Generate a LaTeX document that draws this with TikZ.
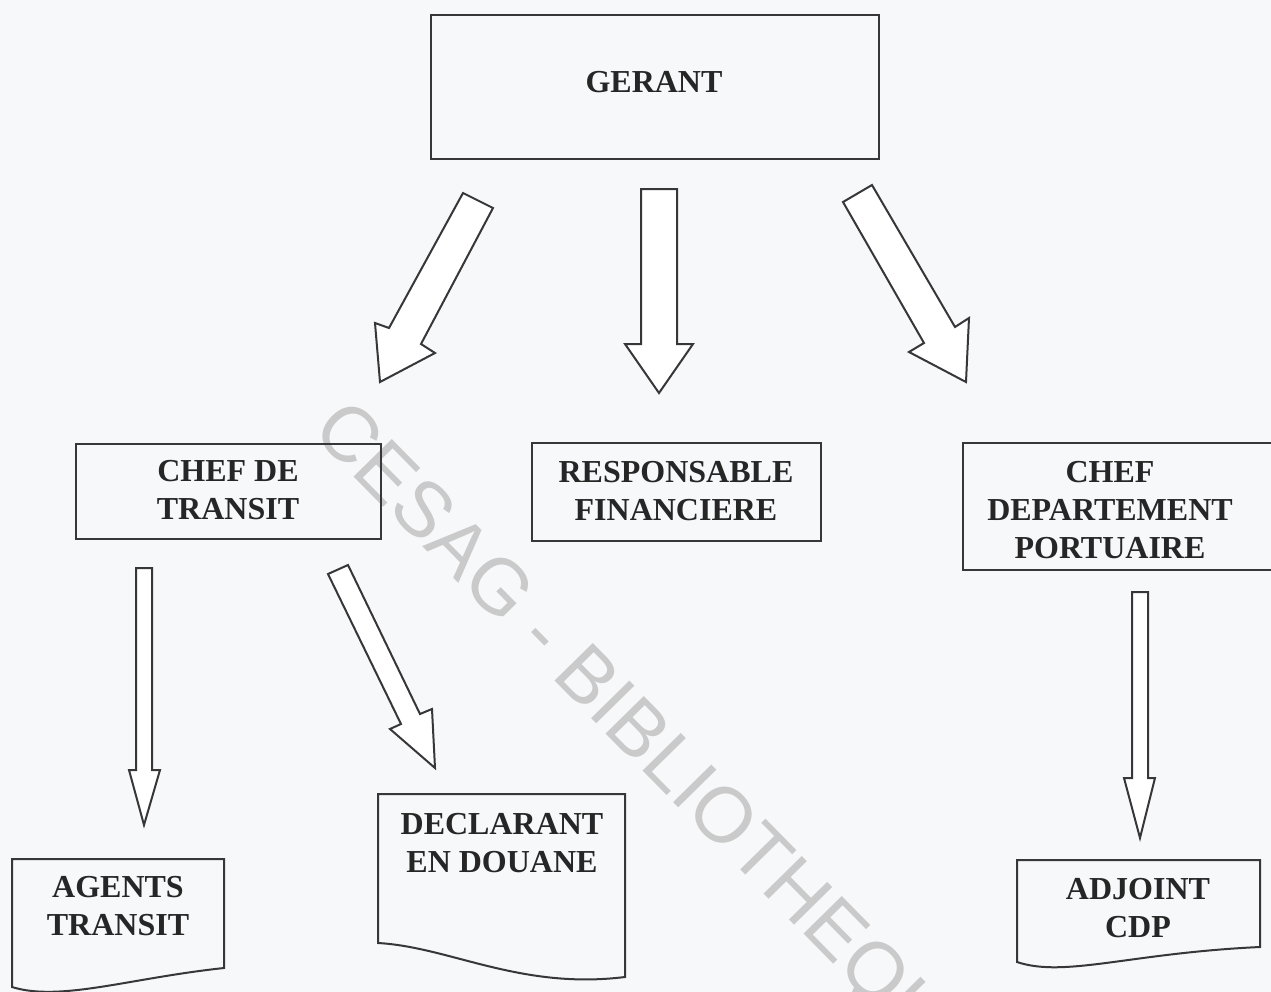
\documentclass[tikz,border=0pt]{standalone}
\usepackage{fontspec}
\setmainfont{Liberation Serif}
\newfontfamily\wmfont{Liberation Sans}
\definecolor{linec}{RGB}{55,55,58}
\definecolor{bgc}{RGB}{247,248,249}
\definecolor{wmc}{RGB}{202,202,202}
\newcommand\lblfont{\fontsize{16}{19}\selectfont\bfseries}
\begin{document}
\begin{tikzpicture}[x=0.5pt,y=-0.5pt,
  boxshape/.style={draw=linec, line width=1pt, inner sep=0pt, anchor=north west},
  lbl/.style={inner sep=0pt, align=center, font=\lblfont, text=black!85},
  blockarrow/.style={draw=linec, line width=1pt, line join=miter, fill=white},
  docshape/.style={draw=linec, line width=1pt, line join=miter}]
\useasboundingbox (0,0) rectangle (1271,992);
\fill[bgc] (0,0) rectangle (1271,992);
\begin{scope}
\clip (0,0) rectangle (1271,992);
% watermark
\node[inner sep=0pt, anchor=base west, rotate=-45.5, text=wmc, font=\wmfont\fontsize{39}{40}\selectfont] (wm) at (310,432) {CESAG - BIBLIOTHEQUE};
% boxes
\node[boxshape, minimum width=224pt, minimum height=72pt] (gerant) at (430,14) {};
\node[boxshape, minimum width=152.5pt, minimum height=47.5pt] (chef) at (75,443) {};
\node[boxshape, minimum width=144.5pt, minimum height=49pt] (resp) at (531,442) {};
\node[boxshape, minimum width=156pt, minimum height=63.5pt] (cdp) at (962,442) {};
% document shapes
\draw[docshape] (12,987) -- (12,859) coordinate (agTL) -- (224,859) -- (224,968) .. controls (130,978) and (60,1002) .. (12,987) -- cycle;
\draw[docshape] (378,943) -- (378,794) -- (625,794) -- (625,977) .. controls (520,990) and (450,947) .. (378,943) -- cycle;
\draw[docshape] (1017,962) -- (1017,860) -- (1260,860) -- (1260,947) .. controls (1130,953) and (1065,978) .. (1017,962) -- cycle;
% texts
\node[lbl] (gerantT) at (654,82) {GERANT};
\node[lbl] (chefT) at (228,490) {CHEF DE\\TRANSIT};
\node[lbl] (respT) at (676,491) {RESPONSABLE\\FINANCIERE};
\node[lbl] (cdpT) at (1110,510) {CHEF\\DEPARTEMENT\\PORTUAIRE};
\node[lbl] (agentsT) at (118,906) {AGENTS\\TRANSIT};
\node[lbl] (declT) at (502,843) {DECLARANT\\EN DOUANE};
\node[lbl] (adjT) at (1138,908) {ADJOINT\\CDP};
% block arrows
\draw[blockarrow] (463,193) -- (493,208) -- (421,344) -- (435,353) -- (380,382) -- (375,323) -- (389,328) -- cycle;
\draw[blockarrow] (641,189) -- (677,189) -- (677,344) -- (693,344) -- (659,393) -- (625,344) -- (641,344) -- cycle;
\draw[blockarrow] (843,202) -- (872,185) -- (955,327) -- (969,318) -- (966,382) -- (909,352) -- (924,343) -- cycle;
\draw[blockarrow] (136,568) -- (152,568) -- (152,770) -- (160,770) -- (144,825) -- (129,770) -- (136,770) -- cycle;
\draw[blockarrow] (328,574) -- (348,565) -- (420,714) -- (432,709) -- (435,768) -- (390,729) -- (401,724) -- cycle;
\draw[blockarrow] (1132,592) -- (1148,592) -- (1148,778) -- (1155,778) -- (1140,838) -- (1124,778) -- (1132,778) -- cycle;
\end{scope}
\end{tikzpicture}
\end{document}
